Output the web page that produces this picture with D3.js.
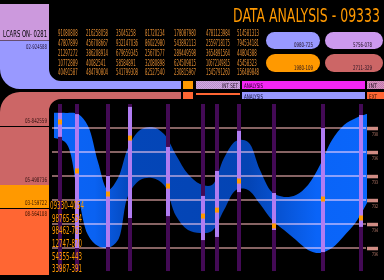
<!DOCTYPE html>
<html><head><meta charset="utf-8">
<script src="https://cdn.jsdelivr.net/npm/d3@7"></script>
<style>
html,body{margin:0;padding:0;background:#000;overflow:hidden;}
svg{display:block;}
text{font-family:"Liberation Sans Narrow","DejaVu Sans Condensed","DejaVu Sans",sans-serif;}
</style></head><body>
<svg id="c" width="384" height="280"></svg>
<script>
// ---------------- data ----------------
const title = "DATA ANALYSIS - 09333";
const headerCode = "LCARS ON- 0281";
const gridNumbers = [
  ["91080808","216258058","35045258","81720234","178087980","4781123984","514581313"],
  ["47807899","456708667","932147036","86022980","543892113","2559718175","794534181"],
  ["21297272","386208914","679659345","25670577","289449598","3654891564","44804388"],
  ["10772889","40082541","58584891","32080898","624509815","10672149815","45458323"],
  ["40491587","484790804","541799308","82527540","230815967","1545791260","156489848"]
];
const pillLabels = ["0980-725","5756-078","1980-109","2711-329"];
const sideCodes = ["02-924588","05-842559","05-498736","03-159722","08-564108"];
const listCodes = ["09330-4054","98765-554","98462-763","12747-870","54355-443","33987-391"];
const rowLabels = ["INT SET","ANALYSIS","INT","ANALYSIS","EXT"];
const yTicks = [60,50,40,30,20,10];
const tickLabels = ["738","736","733","732","734","736"];

const barX     = [6, 23, 54, 76, 114, 149, 163, 185, 220, 269, 307];
const barLow   = [56.3, 10, 10.4, 22.5, 23.3, 13.3, 14.6, 33.3, 17.5, 8.3, 18.8];
const barHigh  = [66.3, 65.8, 40, 68.8, 52.1, 31.7, 42.1, 58.8, 32.9, 60, 65.4];
const barValue = [62.5, 42.1, 32.5, 55.8, 35.8, 23.3, 25.8, 37.9, 19.2, 30.4, 22.5];

const bandX     = [0,12,24,34,44,54,64,74,86,98,110,122,134,146,158,170,182,194,206,218,230,242,254,266,278,290,302,313];
const bandUpper = [66.3,66.3,65.8,60.8,45.8,34.2,39.2,51.7,59.2,60.4,57.5,48.8,40.8,36.7,36.3,47.5,54.6,54.2,42.5,33.3,31.3,32.1,36.3,44.6,55,61.3,64.2,65.8];
const bandLower = [55.8,53.8,32.1,15.4,10.8,10,13.3,31.7,38.3,39.2,36.3,23.3,17.5,16.3,17.1,25.8,34.2,34.2,28.3,21.7,17.5,13.3,9.2,7.9,10,15,20.8,28.8];

// ---------------- drawing ----------------
const svg = d3.select("#c");
svg.append("rect").attr("width",384).attr("height",280).attr("fill","#000");

// text fitted to a width; anchor handled manually so textLength behaves
function txt(s, x, y, size, color, width, anchor){
  let x0 = x;
  if (anchor === "end") x0 = x - width;
  else if (anchor === "middle") x0 = x - width/2;
  return svg.append("text").attr("x",x0).attr("y",y)
    .attr("font-size",size).attr("fill",color)
    .attr("textLength",width).attr("lengthAdjust","spacingAndGlyphs").text(s);
}

const defs = svg.append("defs");
function dither(id, c1, c2){
  const p = defs.append("pattern").attr("id",id).attr("width",2).attr("height",2).attr("patternUnits","userSpaceOnUse");
  p.append("rect").attr("width",2).attr("height",2).attr("fill",c1);
  p.append("rect").attr("width",1).attr("height",1).attr("fill",c2);
  p.append("rect").attr("x",1).attr("y",1).attr("width",1).attr("height",1).attr("fill",c2);
}
dither("dLilac","#d4a8e0","#b890cc");
dither("dPink","#d890c0","#c07aa8");

const grad = defs.append("linearGradient").attr("id","bandGrad")
  .attr("gradientUnits","userSpaceOnUse").attr("x1",54).attr("x2",367).attr("y1",0).attr("y2",0);
[[0,"#0a64f8"],[0.13,"#0a62f2"],[0.25,"#0446b8"],[0.62,"#0444b4"],[0.84,"#0a64f8"],[1,"#0a66fa"]]
  .forEach(s=>grad.append("stop").attr("offset",s[0]).attr("stop-color",s[1]));

// top-left purple block
svg.append("rect").attr("x",0).attr("y",4).attr("width",49).attr("height",36.5).attr("fill","#cc99dd");
txt(headerCode, 3, 37, 9.5, "#000", 44);

// lavender elbow
{
  const p = d3.path();
  p.moveTo(0,41); p.lineTo(49,41); p.lineTo(49,69);
  p.arcTo(49,81,61,81,12); p.lineTo(181,81); p.lineTo(181,89);
  p.lineTo(20,89); p.arcTo(0,89,0,69,20); p.closePath();
  svg.append("path").attr("d",p.toString()).attr("fill","#9999ff");
}
// salmon elbow
{
  const p = d3.path();
  p.moveTo(0,112); p.arcTo(0,92,20,92,20); p.lineTo(181,92); p.lineTo(181,99);
  p.lineTo(61,99); p.arcTo(49,99,49,111,12); p.lineTo(49,185); p.lineTo(0,185); p.closePath();
  svg.append("path").attr("d",p.toString()).attr("fill","#cc6666");
}
svg.append("rect").attr("x",0).attr("y",126).attr("width",49).attr("height",1).attr("fill","#000");
svg.append("rect").attr("x",0).attr("y",185).attr("width",49).attr("height",23).attr("fill","#ff9900");
svg.append("rect").attr("x",0).attr("y",209).attr("width",49).attr("height",66).attr("fill","#ff6633");

txt(sideCodes[0], 47, 48.5, 6.5, "#221133", 21, "end");
txt(sideCodes[1], 47, 123, 6.5, "#331111", 22, "end");
txt(sideCodes[2], 47, 182, 6.5, "#331111", 22, "end");
txt(sideCodes[3], 47, 205, 6.5, "#331100", 22, "end");
txt(sideCodes[4], 47, 216, 6.5, "#331100", 22, "end");

// title
txt(title, 380, 22, 20, "#ff9900", 147, "end");

// number grid
const colX = [58, 86, 116, 145, 174, 206, 237];
const rowY = [36, 46, 56, 66, 75];
gridNumbers.forEach((row,ri)=>row.forEach((s,ci)=>{
  txt(s, colX[ci], rowY[ri], 8, "#e08a30", Math.min(s.length*2.45, 24));
}));

// pills
const pills = [
  {x:266,y:32,w:54,h:17,c:"#9999ff",tx:313},
  {x:325,y:32,w:58,h:17,c:"#cc99ee",tx:372},
  {x:266,y:54,w:54,h:18,c:"#ff9900",tx:313},
  {x:325,y:54,w:58,h:18,c:"#cc6666",tx:372}
];
pills.forEach((p,i)=>{
  svg.append("rect").attr("x",p.x).attr("y",p.y).attr("width",p.w).attr("height",p.h)
    .attr("rx",p.h/2).attr("fill",p.c);
  txt(pillLabels[i], p.tx, p.y+p.h-2.5, 6.5, "#221122", 19, "end");
});

// row 1 / row 2 boxes
svg.append("rect").attr("x",183).attr("y",81).attr("width",10).attr("height",8).attr("fill","#ff9900");
svg.append("rect").attr("x",196).attr("y",81).attr("width",44).attr("height",8).attr("fill","url(#dLilac)");
txt(rowLabels[0], 238, 88, 6.5, "#221122", 16, "end");
svg.append("rect").attr("x",242).attr("y",81).attr("width",123).attr("height",8).attr("fill","#f426f4");
txt(rowLabels[1], 244, 88, 6.5, "#220022", 19);
svg.append("rect").attr("x",367).attr("y",81).attr("width",17).attr("height",8).attr("fill","url(#dPink)");
txt(rowLabels[2], 369, 88, 6.5, "#221122", 8);

svg.append("rect").attr("x",183).attr("y",92).attr("width",10).attr("height",7).attr("fill","#ff6633");
svg.append("rect").attr("x",196).attr("y",93).attr("width",44).attr("height",2).attr("fill","#ff6633");
svg.append("rect").attr("x",242).attr("y",92).attr("width",123).attr("height",7).attr("fill","#9999ff");
txt(rowLabels[3], 244, 98.5, 6.5, "#111133", 19);
svg.append("rect").attr("x",367).attr("y",92).attr("width",17).attr("height",7).attr("fill","#ff6633");
txt(rowLabels[4], 369, 98.5, 6.5, "#331100", 8);

// ---------------- chart ----------------
const x = d3.scaleLinear().domain([0,313]).range([54,367]);
const y = d3.scaleLinear().domain([0,70]).range([272,104]);

const bandData = bandX.map((v,i)=>({x:v,u:bandUpper[i],l:bandLower[i]}));
const area = d3.area().x(d=>x(d.x)).y0(d=>y(d.l)).y1(d=>y(d.u)).curve(d3.curveCatmullRom.alpha(0.5));
svg.append("path").datum(bandData).attr("d",area).attr("fill","url(#bandGrad)");

// grid lines
svg.append("g").selectAll("line").data(yTicks).join("line")
  .attr("x1",52).attr("x2",366).attr("y1",d=>y(d)).attr("y2",d=>y(d))
  .attr("stroke","#b48484").attr("stroke-width",1.5)
  .style("mix-blend-mode","screen");

// right tabs
yTicks.forEach((t,i)=>{
  svg.append("rect").attr("x",367).attr("y",y(t)-1.2).attr("width",11).attr("height",3.5).attr("fill","#d08c84");
  txt(tickLabels[i], 378, y(t)+7.5, 5, "#c08070", 6, "end");
});

// bars
const bars = barX.map((v,i)=>({x:v,lo:barLow[i],hi:barHigh[i],v:barValue[i]}));
svg.append("g").selectAll("rect").data(bars).join("rect")
  .attr("x",d=>x(d.x)-2).attr("width",4)
  .attr("y",y(70)).attr("height",y(0.4)-y(70)).attr("fill","#430a55");
svg.append("g").selectAll("rect").data(bars).join("rect")
  .attr("x",d=>x(d.x)-2).attr("width",4)
  .attr("y",d=>y(d.hi)).attr("height",d=>y(d.lo)-y(d.hi)).attr("fill","#b07cf2");
svg.append("g").selectAll("rect").data(bars).join("rect")
  .attr("x",d=>x(d.x)-2).attr("width",4)
  .attr("y",d=>y(d.v)-2.5).attr("height",5).attr("fill","#ff9900");

// bottom-left list
const listY = [209, 222, 234, 247, 260, 272];
listCodes.forEach((s,i)=>{
  txt(s, 67, listY[i], 11, "#ff9900", s.length>9?34:30, "middle");
});
</script>
</body></html>
